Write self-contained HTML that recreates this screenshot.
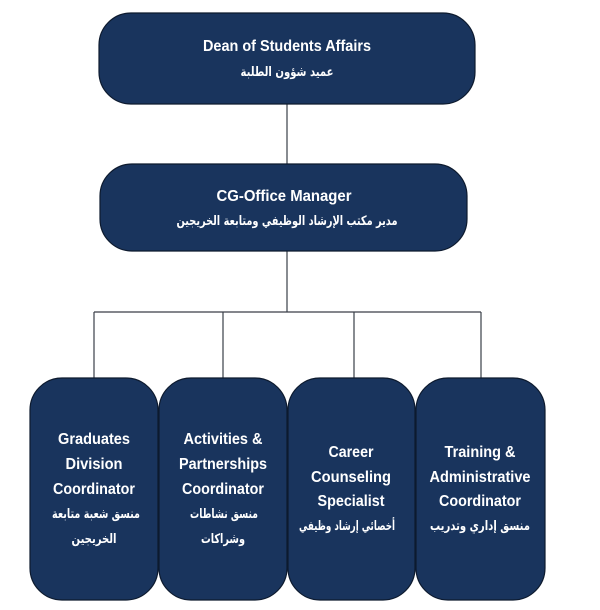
<!DOCTYPE html>
<html><head><meta charset="utf-8"><style>
html,body{margin:0;padding:0;background:#fff;}
svg{display:block;}
text{font-family:"Liberation Sans",sans-serif;font-weight:bold;fill:#fff;text-anchor:middle;}
.a{font-family:"DejaVu Sans","Liberation Sans",sans-serif;font-size:13px;}
.e{font-size:16px;}
</style></head><body>
<svg width="600" height="610" viewBox="0 0 600 610">
<g stroke="#3a3f48" stroke-width="1.2" fill="none">
<line x1="287" y1="104" x2="287" y2="164"/>
<line x1="287" y1="251" x2="287" y2="312"/>
<line x1="94" y1="312" x2="481" y2="312"/>
<line x1="94" y1="312" x2="94" y2="378"/>
<line x1="223" y1="312" x2="223" y2="378"/>
<line x1="354" y1="312" x2="354" y2="378"/>
<line x1="481" y1="312" x2="481" y2="378"/>
</g>
<g fill="#19345d" stroke="#0d1a2e" stroke-width="1.2">
<rect x="99" y="13" width="376" height="91" rx="32"/>
<rect x="100" y="164" width="367" height="87" rx="32"/>
<rect x="30" y="378" width="128" height="222" rx="32"/>
<rect x="159" y="378" width="128" height="222" rx="32"/>
<rect x="288" y="378" width="127" height="222" rx="32"/>
<rect x="416" y="378" width="129" height="222" rx="32"/>
</g>
<text class="e" x="287" y="51" textLength="168" lengthAdjust="spacingAndGlyphs">Dean of Students Affairs</text>
<text class="a" x="287" y="76" direction="rtl" textLength="93" lengthAdjust="spacingAndGlyphs">عميد شؤون الطلبة</text>
<text class="e" x="284" y="201" textLength="135" lengthAdjust="spacingAndGlyphs">CG-Office Manager</text>
<text class="a" x="287" y="225" direction="rtl" textLength="221" lengthAdjust="spacingAndGlyphs">مدير مكتب الإرشاد الوظيفي ومتابعة الخريجين</text>

<text class="e" x="94" y="444" textLength="72" lengthAdjust="spacingAndGlyphs">Graduates</text>
<text class="e" x="94" y="469" textLength="57" lengthAdjust="spacingAndGlyphs">Division</text>
<text class="e" x="94" y="494" textLength="82" lengthAdjust="spacingAndGlyphs">Coordinator</text>
<text class="a" x="96" y="518" direction="rtl" textLength="88" lengthAdjust="spacingAndGlyphs">منسق شعبة متابعة</text>
<text class="a" x="94" y="543" direction="rtl" textLength="45" lengthAdjust="spacingAndGlyphs">الخريجين</text>

<text class="e" x="223" y="444" textLength="79" lengthAdjust="spacingAndGlyphs">Activities &amp;</text>
<text class="e" x="223" y="469" textLength="88" lengthAdjust="spacingAndGlyphs">Partnerships</text>
<text class="e" x="223" y="494" textLength="82" lengthAdjust="spacingAndGlyphs">Coordinator</text>
<text class="a" x="224" y="518" direction="rtl" textLength="68" lengthAdjust="spacingAndGlyphs">منسق نشاطات</text>
<text class="a" x="223" y="543" direction="rtl" textLength="44" lengthAdjust="spacingAndGlyphs">وشراكات</text>

<text class="e" x="351" y="457" textLength="45" lengthAdjust="spacingAndGlyphs">Career</text>
<text class="e" x="351" y="482" textLength="80" lengthAdjust="spacingAndGlyphs">Counseling</text>
<text class="e" x="351" y="506" textLength="67" lengthAdjust="spacingAndGlyphs">Specialist</text>
<text class="a" x="347" y="530" direction="rtl" textLength="96" lengthAdjust="spacingAndGlyphs">أخصائي إرشاد وظيفي</text>

<text class="e" x="480" y="457" textLength="71" lengthAdjust="spacingAndGlyphs">Training &amp;</text>
<text class="e" x="480" y="482" textLength="101" lengthAdjust="spacingAndGlyphs">Administrative</text>
<text class="e" x="480" y="506" textLength="82" lengthAdjust="spacingAndGlyphs">Coordinator</text>
<text class="a" x="480" y="530" direction="rtl" textLength="100" lengthAdjust="spacingAndGlyphs">منسق إداري وتدريب</text>
</svg>
</body></html>
